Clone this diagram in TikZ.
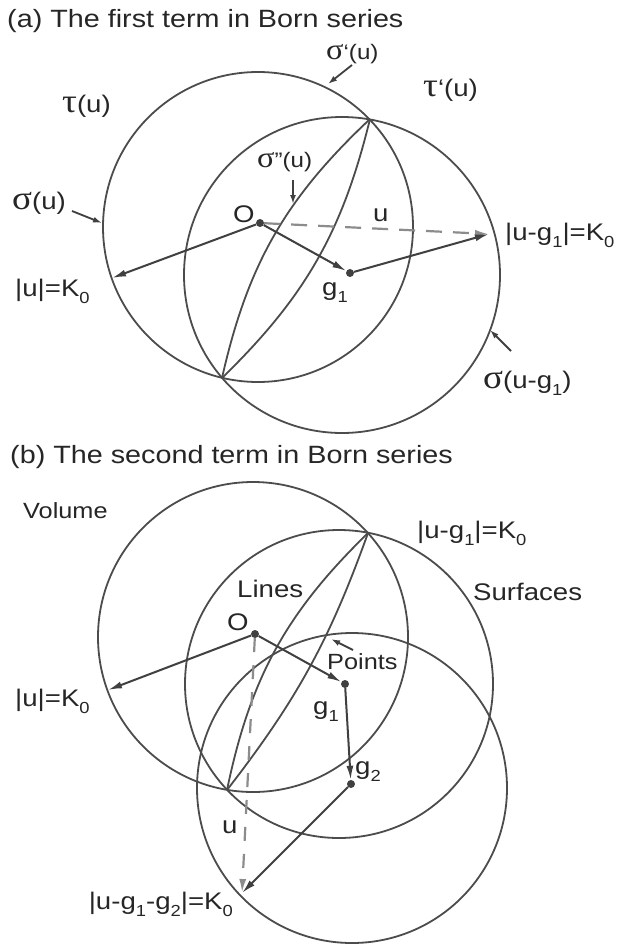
\documentclass[tikz,border=0pt]{standalone}
\usepackage{fontspec}
\setmainfont{Liberation Sans}[FakeStretch=1.15]
\newfontfamily\grkfont{Liberation Serif}[FakeStretch=1.1]
\usetikzlibrary{arrows.meta}
\newcommand\fsz[1]{\fontsize{#1}{#1}\selectfont}
\newcommand\mysig{\scalebox{1.4}{\grkfont σ}}
\newcommand\mytau{\scalebox{1.4}{\grkfont τ}}
\newcommand\sub[1]{\raisebox{-0.32em}{\fontsize{16}{16}\selectfont #1}}
\begin{document}
\begin{tikzpicture}[x=1pt,y=1pt,
  ink/.style={draw=black!70, line width=1.8pt},
  vec/.style={draw=black!75, line width=2pt, -{Latex[length=14pt,width=7pt]}},
  dvec/.style={draw=black!45, line width=2.2pt, dash pattern=on 16pt off 11pt, -{Latex[length=14pt,width=7pt]}},
  ptr/.style={draw=black!75, line width=1.8pt, -{Latex[length=9pt,width=6pt]}},
  dot/.style={circle, fill=black!75, inner sep=0pt, minimum size=8pt},
  lab/.style={inner sep=0pt, text=black!85, font=\fsz{24}, anchor=base west},
]
\useasboundingbox (0,0) rectangle (627,-947);
\fill[white] (0,0) rectangle (627,-947);

% ---------------- panel (a) ----------------
\coordinate (c1a) at (258,-227);
\coordinate (c2a) at (342,-275);
\coordinate (Pba) at (222,-378);
\coordinate (Pta) at (370,-119);
\coordinate (Ka) at (112,-278);
\coordinate (T1a) at (489,-234);
\draw[ink] (c1a) circle[radius=155];
\draw[ink] (c2a) circle[radius=158];
\draw[ink] (Pba) to[bend left=17] (Pta);
\draw[ink] (Pba) to[bend right=16] (Pta);

\node[dot] (Oa) at (260,-223) {};
\node[dot] (g1a) at (350,-273) {};
\draw[dvec] (Oa) -- (T1a);
\draw[vec] (Oa) -- (Ka);
\draw[vec] (Oa) -- (g1a);
\draw[vec] (g1a) -- (T1a);

% pointer arrows (a)
\coordinate (p1s) at (352,-65);  \coordinate (p1e) at (328,-84);
\coordinate (p2s) at (293,-180); \coordinate (p2e) at (293,-204);
\coordinate (p3s) at (72,-211);  \coordinate (p3e) at (102,-223);
\coordinate (p4s) at (511,-351); \coordinate (p4e) at (490,-330);
\draw[ptr] (p1s) -- (p1e);
\draw[ptr] (p2s) -- (p2e);
\draw[ptr] (p3s) -- (p3e);
\draw[ptr] (p4s) -- (p4e);

\node[lab, font=\fsz{25}] (tA) at (7,-28) {(a) The first term in Born series};
\node[lab, font=\fsz{21}] (sp) at (326,-60) {\mysig‘(u)};
\node[lab] (tu) at (62,-113) {\mytau(u)};
\node[lab] (tpu) at (423,-97) {\mytau‘(u)};
\node[lab, font=\fsz{21}] (spp) at (257,-167) {\mysig"(u)};
\node[lab] (su) at (12,-209) {\mysig(u)};
\node[lab] (lO) at (233,-222) {O};
\node[lab] (lu) at (373,-221) {u};
\node[lab] (lK) at (15,-296) {|u|=K\sub{0}};
\node[lab] (lg1) at (322,-295) {g\sub{1}};
\node[lab] (lK1) at (505,-240) {|u-g\sub{1}|=K\sub{0}};
\node[lab] (sug) at (483,-388) {\mysig(u-g\sub{1})};

% ---------------- panel (b) ----------------
\coordinate (c1b) at (253,-637);
\coordinate (c2b) at (339,-684);
\coordinate (c3b) at (352,-788);
\coordinate (Pbb) at (227,-790);
\coordinate (Ptb) at (368,-533);
\coordinate (Kb) at (108,-690);
\coordinate (T2b) at (242,-893);
\draw[ink] (c1b) circle[radius=155];
\draw[ink] (c2b) circle[radius=154];
\draw[ink] (c3b) circle[radius=155];
\draw[ink] (Pbb) to[bend left=17] (Ptb);
\draw[ink] (Pbb) to[bend right=9] (Ptb);

\node[dot] (Ob) at (255,-634) {};
\node[dot] (g1b) at (345,-684) {};
\node[dot] (g2b) at (351,-784) {};
\draw[dvec, dash pattern=on 14pt off 13pt] (Ob) -- (T2b);
\draw[vec] (Ob) -- (Kb);
\draw[vec] (Ob) -- (g1b);
\draw[vec] (g1b) -- (g2b);
\draw[vec] (g2b) -- (T2b);

\coordinate (p5s) at (353,-650); \coordinate (p5e) at (331,-639);
\draw[ptr] (p5s) -- (p5e);

\node[lab, font=\fsz{25}] (tB) at (10,-463) {(b) The second term in Born series};
\node[lab, font=\fsz{22}] (vol) at (23,-518) {Volume};
\node[lab] (lK1b) at (417,-538) {|u-g\sub{1}|=K\sub{0}};
\node[lab] (surf) at (473,-600) {Surfaces};
\node[lab] (lines) at (237,-597) {Lines};
\node[lab] (lOb) at (227,-630) {O};
\node[lab, font=\fsz{22}] (pts) at (327,-669) {Points};
\node[lab] (lg1b) at (313,-714) {g\sub{1}};
\node[lab] (lg2b) at (355,-774) {g\sub{2}};
\node[lab] (lKb) at (15,-706) {|u|=K\sub{0}};
\node[lab] (lub) at (222,-833) {u};
\node[lab, anchor=base east] (lK2b) at (233,-909) {|u-g\sub{1}-g\sub{2}|=K\sub{0}};
\end{tikzpicture}
\end{document}
